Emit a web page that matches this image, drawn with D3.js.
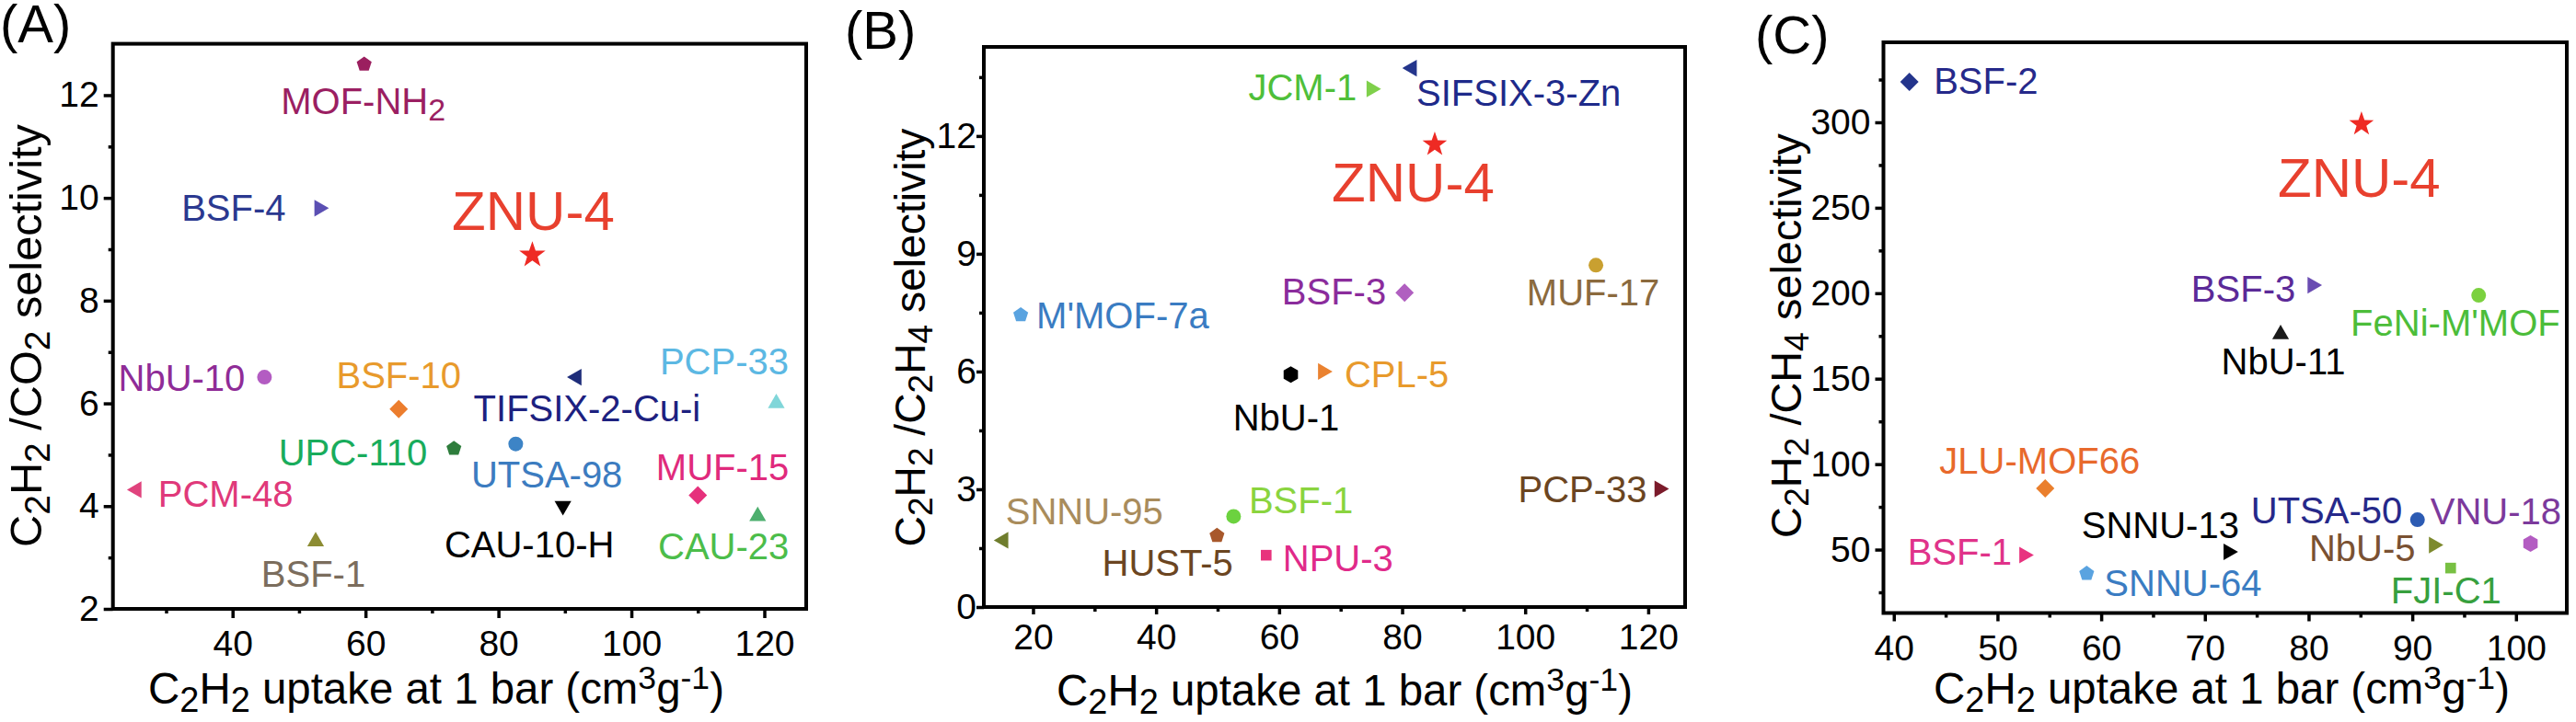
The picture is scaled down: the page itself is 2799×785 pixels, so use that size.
<!DOCTYPE html>
<html>
<head>
<meta charset="utf-8">
<script src="https://cdn.jsdelivr.net/npm/d3@7"></script>
<style>
  html, body { margin: 0; padding: 0; background: #fff; }
  svg { display: block; }
</style>
</head>
<body>
<svg id="chart" width="2799" height="785"></svg>
<script>
// ---------------- DATA ----------------
// Panel A : C2H2/CO2
const aNames = ["MOF-NH₂", "BSF-4", "ZNU-4", "NbU-10", "BSF-10", "TIFSIX-2-Cu-i", "PCP-33", "UPC-110", "UTSA-98", "PCM-48", "MUF-15", "CAU-10-H", "CAU-23", "BSF-1"];
const aUptake = [59.8, 53.4, 85.1, 44.8, 65.0, 91.4, 121.8, 73.3, 82.6, 25.2, 110.0, 89.7, 119.0, 52.5];
const aSelectivity = [12.6, 9.8, 8.91, 6.51, 5.89, 6.51, 6.05, 5.12, 5.21, 4.32, 4.21, 3.96, 3.85, 3.36];
const aXTicks = [40, 60, 80, 100, 120];
const aXMinor = [30, 50, 70, 90, 110];
const aYTicks = [2, 4, 6, 8, 10, 12];
const aYMinor = [3, 5, 7, 9, 11];

// Panel B : C2H2/C2H4
const bNames = ["SIFSIX-3-Zn", "JCM-1", "ZNU-4", "MUF-17", "BSF-3", "M'MOF-7a", "NbU-1", "CPL-5", "PCP-33", "BSF-1", "HUST-5", "SNNU-95", "NPU-3"];
const bUptake = [81.2, 75.4, 85.3, 111.5, 80.4, 18.0, 61.9, 67.5, 122.2, 52.6, 49.9, 14.8, 57.9];
const bSelectivity = [13.73, 13.2, 11.81, 8.71, 8.01, 7.44, 5.92, 6.0, 3.01, 2.31, 1.82, 1.70, 1.32];
const bXTicks = [20, 40, 60, 80, 100, 120];
const bXMinor = [30, 50, 70, 90, 110];
const bYTicks = [0, 3, 6, 9, 12];
const bYMinor = [1.5, 4.5, 7.5, 10.5, 13.5];

// Panel C : C2H2/CH4
const cNames = ["BSF-2", "ZNU-4", "BSF-3", "FeNi-M'MOF", "NbU-11", "JLU-MOF66", "UTSA-50", "VNU-18", "NbU-5", "SNNU-13", "BSF-1", "FJI-C1", "SNNU-64"];
const cUptake = [41.5, 85.1, 80.6, 96.4, 77.3, 54.6, 90.5, 101.4, 92.3, 72.5, 52.8, 93.7, 58.6];
const cSelectivity = [323.7, 299.5, 204.7, 198.8, 177.3, 85.8, 67.5, 53.5, 52.7, 48.7, 46.8, 39.2, 36.0];
const cXTicks = [40, 50, 60, 70, 80, 90, 100];
const cXMinor = [45, 55, 65, 75, 85, 95];
const cYTicks = [50, 100, 150, 200, 250, 300];
const cYMinor = [25, 75, 125, 175, 225, 275, 325];

const xTitle = "C₂H₂ uptake at 1 bar (cm³g⁻¹)";
const aYTitle = "C₂H₂ /CO₂ selectivity";
const bYTitle = "C₂H₂ /C₂H₄ selectivity";
const cYTitle = "C₂H₂ /CH₄ selectivity";
const panelLetters = ["(A)", "(B)", "(C)"];

// ---------------- STYLES (kept apart from values) ----------------
const aShapes = ["pentagon", "triRight", "star", "circle", "diamond", "triLeft", "triUp", "pentagon", "circle", "triLeft", "diamond", "triDown", "triUp", "triUp"];
const aMarkerColors = ["#9b1f5f", "#5b4fb3", "#ee2a24", "#b35cc2", "#ec7d2d", "#1e2d7a", "#80d6d9", "#2e7d3c", "#3d84c6", "#e0437d", "#e6317c", "#000000", "#4daf6e", "#8c8c33"];
const aLabelColors = ["#9b1f62", "#2b3990", "#e8402e", "#8f2c97", "#e89a2c", "#1d2180", "#5cb8e3", "#19ac5c", "#3c7cc0", "#e0397a", "#e02a7c", "#000000", "#4cbd4a", "#7b6d5d"];
const aLabelPos = [["middle", -1, 54], ["end", -39, 13.5], ["middle", 1, -26], ["end", -21, 15], ["middle", 0, -22.5], ["middle", 14, 47.5], ["end", 13.5, -28.5], ["end", -29, 18.5], ["start", -48.5, 47.5], ["start", 26, 19], ["end", 99, -17], ["middle", -36.5, 53.5], ["end", 34, 49], ["middle", -2.5, 51.5]];

const bShapes = ["triLeft", "triRight", "star", "circle", "diamond", "pentagon", "hexagon", "triRight", "triRight", "circle", "pentagon", "triLeft", "square"];
const bMarkerColors = ["#24358c", "#7fd04b", "#ee2a24", "#c9a030", "#b05fc0", "#5aa3e0", "#000000", "#ea8230", "#7b1b2b", "#6cd23f", "#a8582b", "#6f7d2d", "#e8337d"];
const bLabelColors = ["#1e2a8a", "#4fbf3a", "#e8402e", "#8b6a3e", "#8b2c9c", "#3a7cc2", "#000000", "#e89a2c", "#6b4521", "#8ad43f", "#6b4521", "#a98c5c", "#e02a8a"];
const bLabelPos = [["start", 7.5, 41], ["end", -18.5, 12.5], ["middle", -23.5, 63], ["middle", -3, 44], ["end", -20, 13], ["start", 17, 14.5], ["middle", -5, 61], ["start", 21, 17], ["end", -16, 14.5], ["start", 16.5, -3], ["end", 17.5, 43.5], ["start", 5, -17.5], ["start", 18, 17.5]];

const cShapes = ["diamond", "star", "triRight", "circle", "triUp", "diamond", "circle", "hexagon", "triRight", "triRight", "triRight", "square", "pentagon"];
const cMarkerColors = ["#24358c", "#ee2a24", "#6a4cb2", "#7bd13f", "#1a1a1a", "#ea7f2d", "#2c5bb3", "#b35cc2", "#7d8a2e", "#000000", "#e8337f", "#78c043", "#5aa3e0"];
const cLabelColors = ["#26298a", "#e8402e", "#5b2a98", "#4cbd3a", "#000000", "#e8692c", "#26298a", "#7c3a9c", "#7a5132", "#000000", "#e0338a", "#37a03e", "#3a7cc2"];
const cLabelPos = [["start", 26.5, 13.5], ["middle", -2.5, 80], ["end", -21, 17.5], ["end", 88.5, 44], ["middle", 3, 46.5], ["middle", -6, -16], ["end", -16.5, 3.5], ["end", 33.5, -21], ["end", -22.5, 17.5], ["end", 9, -15], ["end", -16, 10.5], ["middle", -5, 38.5], ["start", 19, 24]];

const FONT = '"Liberation Sans", Arial, Helvetica, sans-serif';
const TICK_FONT = 39, LABEL_FONT = 40, ZNU_FONT = 60, LETTER_FONT = 58;
const markerSize = { star: 15, triUp: 10.5, triDown: 10.5, triLeft: 10.5, triRight: 10.5, circle: 8, diamond: 10, pentagon: 8.5, hexagon: 9, square: 5.8 };

// ---------------- SYMBOL TYPES ----------------
function triType(angleDeg) {
  const a = angleDeg * Math.PI / 180;
  return { draw(ctx, R) {
    const pts = [[0.75 * R, 0], [-0.75 * R, 0.866 * R], [-0.75 * R, -0.866 * R]].map(([px, py]) =>
      [px * Math.cos(a) - py * Math.sin(a), px * Math.sin(a) + py * Math.cos(a)]);
    ctx.moveTo(pts[0][0], pts[0][1]); ctx.lineTo(pts[1][0], pts[1][1]); ctx.lineTo(pts[2][0], pts[2][1]); ctx.closePath();
  }};
}
function polyType(n) {
  return { draw(ctx, R) {
    for (let i = 0; i < n; i++) {
      const t = -Math.PI / 2 + i * 2 * Math.PI / n;
      const px = R * Math.cos(t), py = R * Math.sin(t);
      if (i === 0) ctx.moveTo(px, py); else ctx.lineTo(px, py);
    }
    ctx.closePath();
  }};
}
const starType = { draw(ctx, R) {
  const r = R * 0.40;
  for (let i = 0; i < 10; i++) {
    const t = -Math.PI / 2 + i * Math.PI / 5;
    const rr = i % 2 === 0 ? R : r;
    const px = rr * Math.cos(t), py = rr * Math.sin(t) + R * 0.08;
    if (i === 0) ctx.moveTo(px, py); else ctx.lineTo(px, py);
  }
  ctx.closePath();
}};
const shapeTypes = {
  circle: { draw(ctx, r) { ctx.moveTo(r, 0); ctx.arc(0, 0, r, 0, 2 * Math.PI); } },
  square: { draw(ctx, r) { ctx.rect(-r, -r, 2 * r, 2 * r); } },
  diamond: { draw(ctx, r) { ctx.moveTo(0, -r); ctx.lineTo(r, 0); ctx.lineTo(0, r); ctx.lineTo(-r, 0); ctx.closePath(); } },
  triUp: triType(-90), triDown: triType(90), triLeft: triType(180), triRight: triType(0),
  pentagon: polyType(5), hexagon: polyType(6), star: starType
};

// ---------------- RICH TEXT (sub/superscripts) ----------------
const subMap = { "₀": "0", "₁": "1", "₂": "2", "₃": "3", "₄": "4" };
const supMap = { "³": "3", "⁻": "-", "¹": "1", "²": "2" };
function richText(textSel, str, fs, opt) {
  opt = Object.assign({ subScale: 0.8, subShift: 0.18, supScale: 0.75, supShift: 0.34 }, opt || {});
  textSel.selectAll("tspan").remove();
  const runs = [];
  let cur = null;
  for (const ch of str) {
    let type = "n", c = ch;
    if (subMap[ch]) { type = "sub"; c = subMap[ch]; }
    else if (supMap[ch]) { type = "sup"; c = supMap[ch]; }
    if (!cur || cur.type !== type) { cur = { type, text: "" }; runs.push(cur); }
    cur.text += c;
  }
  let shift = 0;
  runs.forEach(r => {
    const target = r.type === "sub" ? opt.subShift * fs : r.type === "sup" ? -opt.supShift * fs : 0;
    const size = r.type === "sub" ? fs * opt.subScale : r.type === "sup" ? fs * opt.supScale : fs;
    textSel.append("tspan").text(r.text).attr("dy", (target - shift).toFixed(2)).attr("font-size", size);
    shift = target;
  });
}
function fitRichText(textSel, str, target, baseFs, opt) {
  richText(textSel, str, baseFs, opt);
  const len = textSel.node().getComputedTextLength();
  const fs = baseFs * target / len;
  richText(textSel, str, fs, opt);
  return fs;
}

// ---------------- DRAW ----------------
const svg = d3.select("#chart");

const panels = [
  { names: aNames, xs: aUptake, ys: aSelectivity, shapes: aShapes, mColors: aMarkerColors, lColors: aLabelColors, lPos: aLabelPos,
    xTicks: aXTicks, xMinor: aXMinor, yTicks: aYTicks, yMinor: aYMinor, yTitle: aYTitle,
    xDomain: [22, 126.3], yDomain: [2, 13], left: 122.7, right: 876, top: 47.6, bottom: 662,
    tick: 10, xPad: 13, yPad: 5, starR: 15,
    xTitleX: 474, xTitleY: 765, yTitleX: 45, yTitleY: 365, yTitleLen: 460,
    letterX: 0, letterY: 46 },
  { names: bNames, xs: bUptake, ys: bSelectivity, shapes: bShapes, mColors: bMarkerColors, lColors: bLabelColors, lPos: bLabelPos,
    xTicks: bXTicks, xMinor: bXMinor, yTicks: bYTicks, yMinor: bYMinor, yTitle: bYTitle,
    xDomain: [12, 126], yDomain: [0, 14.27], left: 1069, right: 1831, top: 51, bottom: 660,
    tick: 8, xPad: 10, yPad: 0, starR: 14,
    xTitleX: 1461, xTitleY: 767, yTitleX: 1005, yTitleY: 367, yTitleLen: 455,
    letterX: 918, letterY: 53 },
  { names: cNames, xs: cUptake, ys: cSelectivity, shapes: cShapes, mColors: cMarkerColors, lColors: cLabelColors, lPos: cLabelPos,
    xTicks: cXTicks, xMinor: cXMinor, yTicks: cYTicks, yMinor: cYMinor, yTitle: cYTitle,
    xDomain: [39, 104.9], yDomain: [12.9, 346.8], left: 2046.5, right: 2789, top: 46, bottom: 666.5,
    tick: 9, xPad: 14.5, yPad: 5, starR: 14,
    xTitleX: 2414, xTitleY: 765, yTitleX: 1957, yTitleY: 365, yTitleLen: 440,
    letterX: 1907, letterY: 58 }
];

panels.forEach((p, pi) => {
  const x = d3.scaleLinear().domain(p.xDomain).range([p.left, p.right]);
  const y = d3.scaleLinear().domain(p.yDomain).range([p.bottom, p.top]);
  const g = svg.append("g");

  function styleAxis(sel) {
    sel.select(".domain").remove();
    sel.attr("font-family", FONT).attr("font-size", TICK_FONT);
    sel.selectAll(".tick line").attr("stroke", "#000").attr("stroke-width", 3.5);
    sel.selectAll(".tick text").attr("fill", "#000");
  }
  // minor ticks
  g.append("g").attr("transform", `translate(0,${p.bottom})`)
    .call(d3.axisBottom(x).tickValues(p.xMinor).tickSize(5).tickFormat("")).call(styleAxis);
  g.append("g").attr("transform", `translate(${p.left},0)`)
    .call(d3.axisLeft(y).tickValues(p.yMinor).tickSize(5).tickFormat("")).call(styleAxis);
  // major ticks
  g.append("g").attr("transform", `translate(0,${p.bottom})`)
    .call(d3.axisBottom(x).tickValues(p.xTicks).tickSize(p.tick).tickPadding(p.xPad).tickFormat(d3.format("d"))).call(styleAxis);
  g.append("g").attr("transform", `translate(${p.left},0)`)
    .call(d3.axisLeft(y).tickValues(p.yTicks).tickSize(p.tick).tickPadding(p.yPad).tickFormat(d3.format("d"))).call(styleAxis);

  // frame
  g.append("rect").attr("x", p.left).attr("y", p.top)
    .attr("width", p.right - p.left).attr("height", p.bottom - p.top)
    .attr("fill", "none").attr("stroke", "#000").attr("stroke-width", 4);

  // points
  const idx = d3.range(p.names.length);
  g.selectAll("path.pt").data(idx).join("path").attr("class", "pt")
    .attr("transform", i => `translate(${x(p.xs[i])},${y(p.ys[i])})`)
    .attr("d", i => d3.symbol().type(shapeTypes[p.shapes[i]]).size(p.shapes[i] === "star" ? p.starR : markerSize[p.shapes[i]])())
    .attr("fill", i => p.mColors[i]);

  // labels
  idx.forEach(i => {
    const isZ = p.names[i] === "ZNU-4";
    const fs = isZ ? ZNU_FONT : LABEL_FONT;
    const t = g.append("text")
      .attr("x", x(p.xs[i]) + p.lPos[i][1])
      .attr("y", y(p.ys[i]) + p.lPos[i][2])
      .attr("text-anchor", p.lPos[i][0])
      .attr("font-family", FONT).attr("font-size", fs)
      .attr("fill", p.lColors[i]);
    richText(t, p.names[i], fs, { subScale: 0.85, subShift: 0.18 });
  });

  // axis titles
  const xt = g.append("text").attr("x", p.xTitleX).attr("y", p.xTitleY)
    .attr("text-anchor", "middle").attr("font-family", FONT).attr("fill", "#000");
  const xfs = fitRichText(xt, xTitle, 626, 46);
  xt.attr("font-size", xfs);

  const yt = g.append("text").attr("text-anchor", "middle")
    .attr("transform", `translate(${p.yTitleX},${p.yTitleY}) rotate(-90)`)
    .attr("font-family", FONT).attr("fill", "#000");
  const yfs = fitRichText(yt, p.yTitle, p.yTitleLen, 48);
  yt.attr("font-size", yfs);

  // panel letter
  g.append("text").attr("x", p.letterX).attr("y", p.letterY)
    .attr("font-family", FONT).attr("font-size", LETTER_FONT).attr("fill", "#000")
    .text(panelLetters[pi]);
});
</script>
</body>
</html>
